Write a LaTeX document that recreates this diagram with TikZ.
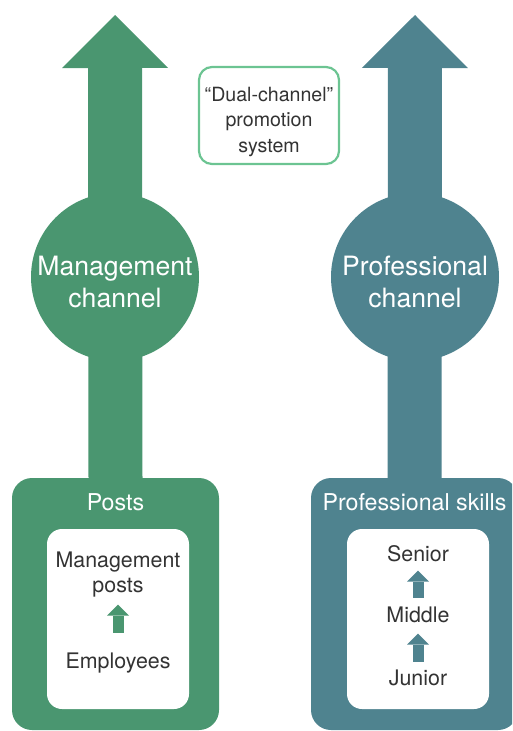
\documentclass[tikz,border=0pt]{standalone}
\usepackage{fontspec}
\setmainfont{TeX Gyre Heros}
\usetikzlibrary{arrows.meta}

\definecolor{mgreen}{RGB}{74,150,112}
\definecolor{pteal}{RGB}{79,131,143}
\definecolor{lgreen}{RGB}{108,196,146}
\definecolor{txtgray}{RGB}{51,51,51}

\begin{document}
\begin{tikzpicture}[x=1pt, y=-1pt,
    channel/.style ={circle, minimum size=168pt, inner sep=0pt},
    stage/.style ={rectangle, rounded corners=20pt, minimum width=207pt, minimum height=252pt, inner sep=0pt},
    inbox/.style ={rectangle, rounded corners=15pt, fill=white, minimum width=142pt, minimum height=180pt, inner sep=0pt},
    dualbox/.style ={rectangle, rounded corners=13pt, draw=lgreen, line width=2.2pt, minimum width=140pt, minimum height=97pt, inner sep=0pt},
    bigtxt/.style ={white, align=center, inner sep=0pt, font=\fontsize{26.6}{32}\selectfont},
    titletxt/.style ={white, anchor=base, inner sep=0pt, font=\fontsize{23.2}{27}\selectfont},
    steptxt/.style ={txtgray, align=center, inner sep=0pt, font=\fontsize{21.4}{25}\selectfont},
    dualtxt/.style ={txtgray, align=center, inner sep=0pt, font=\fontsize{19.6}{25.5}\selectfont},
    bigarrow/.style ={line width=54pt, -{Triangle[width=106pt, length=53pt, line width=0pt]}},
    smallarrow/.style ={line width=11pt, -{Triangle[width=22pt, length=11pt, line width=0pt]}}]
   \useasboundingbox (0,0) rectangle (512,731);
   \clip (0,0) rectangle (512,731);

   % bottom boxes
   \node[stage, fill=mgreen] (posts)  at (115.5,604)  {};
   \node[stage, fill=pteal] (skills)  at (414.5,604)  {};
   \node[inbox] (postsin)  at (118,619)  {};
   \node[inbox] (skillsin)  at (418,619)  {};

   % channel arrows
   \coordinate (mtip) at (115,15);
   \coordinate (ptip) at (415,15);
   \draw[bigarrow, mgreen] (posts.north) -- (mtip);
   \draw[bigarrow, pteal] (skills.north) -- (ptip);

   \node[channel, fill=mgreen] (mgmt)  at (115,277)  {};
   \node[channel, fill=pteal] (prof)  at (415,277)  {};
   \node[bigtxt] (mgmttxt)  at (115,282)  {Management\\channel};
   \node[bigtxt] (proftxt)  at (415,282)  {Professional\\channel};

   % label
   \node[dualbox] (dual)  at (269,115.5)  {};
   \node[dualtxt] (dualt)  at (269,121.6)  {“Dual-channel”\\promotion\\system};

   % titles
   \node[titletxt] (poststitle)  at (115.5,510)  {Posts};
   \node[titletxt] (skillstitle)  at (414.5,510)  {Professional skills};

   % steps
   \node[steptxt] (mposts)  at (118,574.2)  {Management\\posts};
   \node[steptxt, anchor=base] (emp)  at (118,668)  {Employees};
   \node[steptxt, anchor=base] (senior)  at (418,561)  {Senior};
   \node[steptxt, anchor=base] (middle)  at (418,622)  {Middle};
   \node[steptxt, anchor=base] (junior)  at (418,685)  {Junior};

   \draw[smallarrow, mgreen, shorten <=19.3pt, shorten >=7.5pt] (emp.north) to (mposts.south);
   \draw[smallarrow, pteal, shorten <=8.3pt, shorten >=9pt] (middle.north) to (senior.south);
   \draw[smallarrow, pteal, shorten <=7.3pt, shorten >=11pt] (junior.north) to (middle.south);
 \end{tikzpicture}
\end{document}
